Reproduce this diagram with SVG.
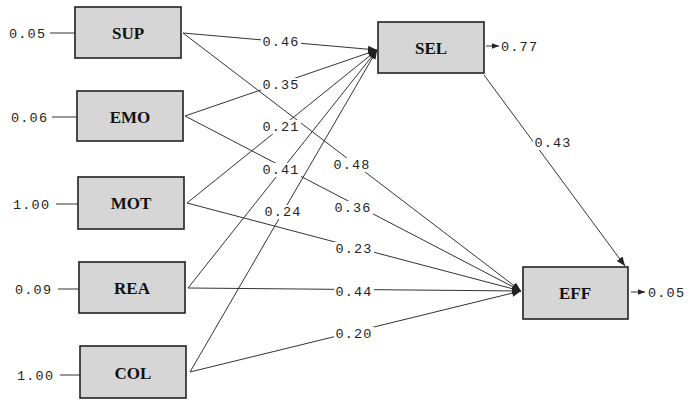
<svg xmlns="http://www.w3.org/2000/svg" width="692" height="400" viewBox="0 0 692 400">
<style>
.box{fill:#d6d6d6;stroke:#222;stroke-width:1.6}
.nl{font-family:"Liberation Serif",serif;font-weight:bold;font-size:17px;fill:#111;text-anchor:middle}
.num{font-family:"Liberation Mono",monospace;font-size:13.5px;fill:#222;letter-spacing:1.2px}
.lab{font-family:"Liberation Mono",monospace;font-size:13.5px;fill:#222;letter-spacing:1.2px;text-anchor:middle}
.bg{fill:#fff}
.ln{stroke:#333;stroke-width:1;fill:none}
</style>
<defs>
<marker id="ah" viewBox="0 0 10 10" refX="10" refY="5" markerWidth="9" markerHeight="9" orient="auto" markerUnits="userSpaceOnUse">
<path d="M0,1 L10,5 L0,9 z" fill="#222"/>
</marker>
<marker id="ahs" viewBox="0 0 10 10" refX="10" refY="5" markerWidth="7" markerHeight="7" orient="auto" markerUnits="userSpaceOnUse">
<path d="M0,1 L10,5 L0,9 z" fill="#222"/>
</marker>
</defs>
<g id="connectors">
<line class="ln" x1="183" y1="33" x2="377" y2="50" marker-end="url(#ah)"/>
<line class="ln" x1="183" y1="33" x2="521" y2="291" marker-end="url(#ah)"/>
<line class="ln" x1="185" y1="116" x2="377" y2="50" marker-end="url(#ah)"/>
<line class="ln" x1="185" y1="116" x2="521" y2="291" marker-end="url(#ah)"/>
<line class="ln" x1="187" y1="203" x2="377" y2="50" marker-end="url(#ah)"/>
<line class="ln" x1="187" y1="203" x2="521" y2="291" marker-end="url(#ah)"/>
<line class="ln" x1="188" y1="288" x2="377" y2="50" marker-end="url(#ah)"/>
<line class="ln" x1="188" y1="288" x2="521" y2="291" marker-end="url(#ah)"/>
<line class="ln" x1="190" y1="372" x2="377" y2="50" marker-end="url(#ah)"/>
<line class="ln" x1="190" y1="372" x2="521" y2="291" marker-end="url(#ah)"/>
<line class="ln" x1="484" y1="75" x2="625" y2="266" marker-end="url(#ah)"/>
<line class="ln" x1="50" y1="33" x2="75" y2="33"/>
<line class="ln" x1="52" y1="117" x2="77" y2="117"/>
<line class="ln" x1="56" y1="204" x2="78" y2="204"/>
<line class="ln" x1="58" y1="289" x2="79" y2="289"/>
<line class="ln" x1="60" y1="375" x2="80" y2="375"/>
<line class="ln" x1="486" y1="46" x2="499" y2="46" marker-end="url(#ahs)"/>
<line class="ln" x1="631" y1="292" x2="645" y2="292" marker-end="url(#ahs)"/>
<rect class="bg" x="261" y="35" width="40" height="14"/>
<rect class="bg" x="261" y="78" width="40" height="14"/>
<rect class="bg" x="261" y="120" width="40" height="14"/>
<rect class="bg" x="332" y="158" width="40" height="14"/>
<rect class="bg" x="261" y="163" width="40" height="14"/>
<rect class="bg" x="333" y="201" width="40" height="14"/>
<rect class="bg" x="263" y="205" width="40" height="14"/>
<rect class="bg" x="334" y="242" width="40" height="14"/>
<rect class="bg" x="334" y="285" width="40" height="14"/>
<rect class="bg" x="334" y="327" width="40" height="14"/>
<rect class="bg" x="533" y="136" width="40" height="14"/>
<text class="lab" x="281" y="46">0.46</text>
<text class="lab" x="281" y="89">0.35</text>
<text class="lab" x="281" y="131">0.21</text>
<text class="lab" x="352" y="169">0.48</text>
<text class="lab" x="281" y="174">0.41</text>
<text class="lab" x="353" y="212">0.36</text>
<text class="lab" x="283" y="216">0.24</text>
<text class="lab" x="354" y="253">0.23</text>
<text class="lab" x="354" y="296">0.44</text>
<text class="lab" x="354" y="338">0.20</text>
<text class="lab" x="553" y="147">0.43</text>
</g>
<g id="err">
<text class="num" x="9" y="38">0.05</text>
<text class="num" x="11" y="122">0.06</text>
<text class="num" x="13" y="209">1.00</text>
<text class="num" x="15" y="294">0.09</text>
<text class="num" x="17" y="380">1.00</text>
<text class="num" x="501" y="51">0.77</text>
<text class="num" x="648" y="297">0.05</text>
</g>
<g id="SUP"><rect class="box" x="75" y="7" width="106" height="51"/><text class="nl" x="128" y="39">SUP</text></g>
<g id="EMO"><rect class="box" x="77" y="91" width="106" height="50"/><text class="nl" x="130" y="123">EMO</text></g>
<g id="MOT"><rect class="box" x="78" y="177" width="106" height="52"/><text class="nl" x="131" y="209">MOT</text></g>
<g id="REA"><rect class="box" x="79" y="262" width="106" height="51"/><text class="nl" x="132" y="294">REA</text></g>
<g id="COL"><rect class="box" x="80" y="346" width="106" height="52"/><text class="nl" x="133" y="379">COL</text></g>
<g id="SEL"><rect class="box" x="378" y="22" width="106" height="51"/><text class="nl" x="431" y="54">SEL</text></g>
<g id="EFF"><rect class="box" x="523" y="267" width="105" height="52"/><text class="nl" x="575" y="299">EFF</text></g>
</svg>
